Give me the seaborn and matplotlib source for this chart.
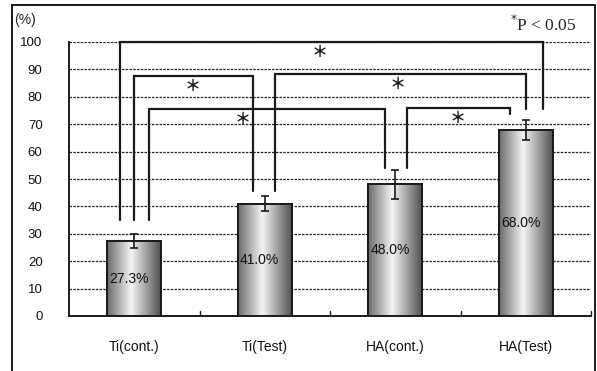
import matplotlib
matplotlib.use('Agg')
import matplotlib.pyplot as plt
import numpy as np
import seaborn as sns
from matplotlib.patches import Rectangle

# data
groups = ['Ti(cont.)', 'Ti(Test)', 'HA(cont.)', 'HA(Test)']
values = [27.3, 41.0, 48.0, 68.0]
errors = [2.5, 2.8, 5.3, 3.6]
bar_labels = ['27.3%', '41.0%', '48.0%', '68.0%']
y_ticks = [0, 10, 20, 30, 40, 50, 60, 70, 80, 90, 100]

# significance brackets: (bar a, leg offset a, bar b, leg offset b, top, leg end a, leg end b, star x)
brackets = [
    (0, -0.11, 3, 0.13, 100.0, 35.0, 75.5, 1.42),
    (0, 0.00, 1, -0.09, 87.6, 35.0, 45.6, 0.45),
    (1, 0.08, 3, 0.00, 88.3, 45.6, 75.5, 2.02),
    (0, 0.11, 2, -0.08, 75.5, 35.0, 54.0, 0.83),
    (2, 0.09, 3, -0.12, 75.8, 54.0, 73.7, 2.48),
]

sns.set_style('white')
plt.rcParams['font.family'] = ['Liberation Sans', 'DejaVu Sans']

fig = plt.figure(figsize=(5.97, 3.71), dpi=100)
ax = fig.add_axes([69/597, 55/371, 522/597, 274/371])

sns.barplot(x=groups, y=values, ax=ax, color='#c8c8c8', width=0.41,
            edgecolor='#1a1a1a', linewidth=1.4, errorbar=None, zorder=3)

# cylinder-like shading on bars
grad = np.concatenate([np.linspace(0.42, 0.95, 45), np.linspace(0.95, 0.32, 55)])
cmap = plt.get_cmap('gray')
for p in ax.patches:
    x0, y0 = p.get_x(), p.get_y()
    w, h = p.get_width(), p.get_height()
    im = ax.imshow(grad[np.newaxis, :], cmap=cmap, vmin=0, vmax=1, aspect='auto',
                   extent=[x0, x0 + w, y0, y0 + h], zorder=3.5, interpolation='bicubic')
    im.set_clip_path(p)
    ax.add_patch(Rectangle((x0, y0), w, h, fill=False, edgecolor='#1a1a1a',
                           linewidth=1.4, zorder=4))

ax.errorbar(range(len(values)), values, yerr=errors, fmt='none', ecolor='#1a1a1a',
            elinewidth=1.2, capsize=3, capthick=1.2, zorder=5)

for i, (v, lab) in enumerate(zip(values, bar_labels)):
    ax.text(i - 0.04, v / 2, lab, ha='center', va='center', fontsize=10,
            color='#111111', zorder=6)

# brackets
for a, da, b, db, top, ya, yb, sx in brackets:
    ax.plot([a + da, a + da, b + db, b + db], [ya, top, top, yb], color='#1a1a1a',
            linewidth=1.6, solid_joinstyle='miter', clip_on=False, zorder=2.5)
    ax.text(sx, top - 3.6, '＊', ha='center', va='center', fontsize=11.5, fontweight='bold',
            family=['Noto Sans CJK JP', 'DejaVu Sans'], color='#1a1a1a', zorder=6)

ax.set_xlim(-0.5, 3.5)
ax.set_ylim(0, 100)
ax.set_yticks(y_ticks)
ax.yaxis.grid(True, color='#222222', linestyle=(0, (2, 1)), linewidth=0.9)
ax.set_axisbelow(True)
ax.tick_params(axis='y', length=0, pad=19, labelsize=9.5, labelcolor='#111111')
ax.set_xticks(range(len(groups)))
ax.set_xticklabels(groups)
ax.tick_params(axis='x', length=0, pad=17, labelsize=10, labelcolor='#111111')
for xb in [0.5, 1.5, 2.5, 3.5]:
    ax.plot([xb, xb], [0, 2], color='#1a1a1a', linewidth=1.0, clip_on=False)

for s in ['top', 'right']:
    ax.spines[s].set_visible(False)
for s in ['left', 'bottom']:
    ax.spines[s].set_color('#1a1a1a')
    ax.spines[s].set_linewidth(1.4)
ax.set_xlabel('')
ax.set_ylabel('')

fig.text(14/597, 1 - 20/371, '(%)', ha='left', va='center', fontsize=10)
fig.text(577/597, 1 - 25/371, r'$^{*}$P < 0.05', ha='right', va='center', fontsize=12.5,
         family=['Liberation Serif', 'DejaVu Serif'])

# outer frame
fig.patches.append(Rectangle((12/597, -0.2), (595 - 12)/597, 1.2 - 5/371, transform=fig.transFigure,
                             fill=False, edgecolor='#1a1a1a', linewidth=1.4))

fig.savefig('out.png', dpi=100)
